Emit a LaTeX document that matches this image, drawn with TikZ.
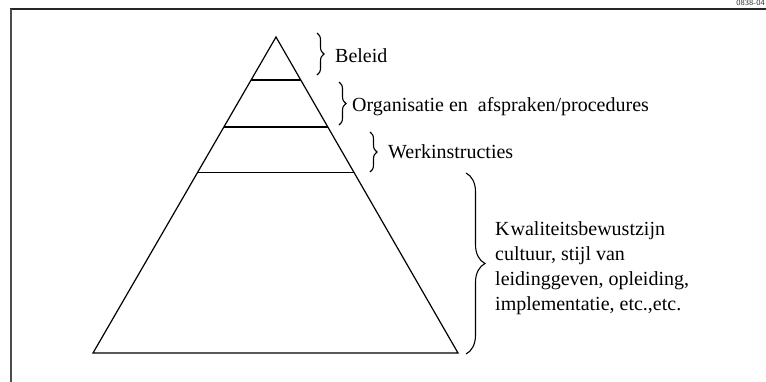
\documentclass[tikz,border=0pt]{standalone}
\usepackage{fontspec}
\setmainfont{Liberation Serif}
\usepackage{tikz}
\usetikzlibrary{calc}
\usetikzlibrary{decorations.pathreplacing}
\newcommand{\layer}[1]{\draw[edge] ($(top)!#1!(bl)$) -- ($(top)!#1!(br)$);}
\newcommand{\curly}[4]{\draw[curl, decoration={brace, amplitude=#4}] (#1, #2) -- (#1, #3);}
\tikzset{
  edge/.style={line width=1.2pt, line join=miter},
  curl/.style={line width=1.1pt, decorate},
  txt/.style={font=\rmfamily\fontsize{20}{25}\selectfont, inner sep=0pt, anchor=west, align=left}
}

\begin{document}
\begin{tikzpicture}[x=1pt, y=-1pt]
        \useasboundingbox (0,0) rectangle (766,381);
        % frame
        \draw[line width=2pt, black!85] (10,9) -- (770,9);
        \draw[line width=1.3pt, black!70] (11,9) -- (11,385);
        \node[font=\sffamily\fontsize{8}{9}\selectfont, anchor=base east, inner sep=0pt, black!80] (code) at (765,5) {0838-04};
        % pyramid
        \coordinate (top) at (276,37);
        \coordinate (bl) at (93,353);
        \coordinate (br) at (458,353);
        \draw[edge] (top) -- (bl) -- (br) -- cycle;
        \layer{0.136}
        \layer{0.285}
        \layer{0.430}
        % braces
        \curly{317}{33}{75}{7}
        \curly{339}{82}{125}{7}
        \curly{370}{132}{172}{7}
        \curly{466}{173}{354}{19}
        % labels
        \node[txt] (beleid) at (335,56) {Beleid};
        \node[txt] (org) at (352,107) {Organisatie en\ \ afspraken/procedures};
        \node[txt] (werk) at (388,152) {Werkinstructies};
        \node[txt] (kwal) at (495,268) {K\kern1pt waliteitsbewustzijn\\cultuur, stijl van\\leidinggeven, opleiding,\\implementatie, etc.,etc.};
\end{tikzpicture}
\end{document}
